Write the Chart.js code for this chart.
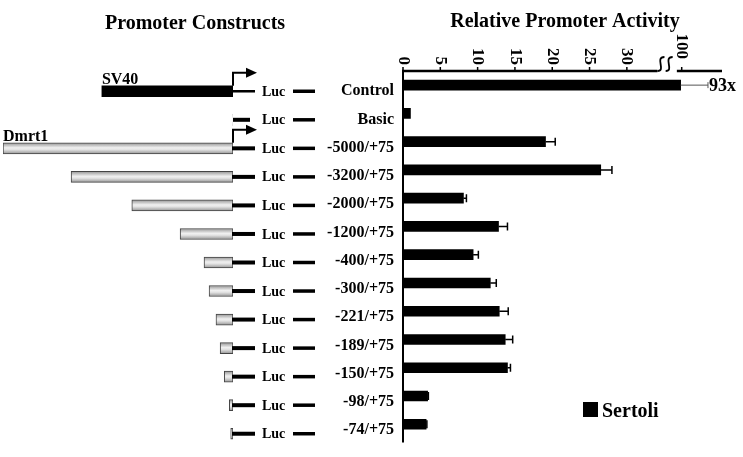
<!DOCTYPE html>
<html>
<head>
<meta charset="utf-8">
<script src="https://cdn.jsdelivr.net/npm/chart.js@4.4.1/dist/chart.umd.min.js"></script>
<style>
  html, body { margin: 0; padding: 0; background: #fff; }
  #wrap { position: relative; width: 743px; height: 457px; }
  #wrap canvas { position: absolute; left: 0; top: 0; }
</style>
</head>
<body>
<div id="wrap">
  <canvas id="constructChart" width="743" height="457"></canvas>
  <canvas id="activityChart" width="743" height="457"></canvas>
</div>
<script>
// constructs, top to bottom
let constructs = ['Control', 'Basic', '-5000/+75', '-3200/+75', '-2000/+75', '-1200/+75',
                  '-400/+75', '-300/+75', '-221/+75', '-189/+75', '-150/+75', '-98/+75', '-74/+75'];
// relative promoter activity in Sertoli cells (fold over basic)
let sertoli    = [93, 1.0, 19.1, 26.5, 8.1, 12.8, 9.4, 11.7, 12.9, 13.7, 14.0, 3.3, 3.1];
let sertoliErr = [183, 0, 1.3, 1.5, 0.4, 1.2, 0.7, 0.8, 1.2, 1.0, 0.4, 0.1, 0.1];
// drawn length of the promoter fragment in the schematic (kb, as drawn)
let schematicLen = [2.85, 0, 5.0, 3.52, 2.2, 1.15, 0.63, 0.52, 0.37, 0.28, 0.19, 0.08, 0.05];
let xTicks = [0, 5, 10, 15, 20, 25, 30, 100];

const SERIF = '"Liberation Serif", "Times New Roman", serif';

// broken axis: 0-35 linear, then a compressed piece around 100
function brk(v) {
  return v <= 35 ? v : 37.35 + (v - 100) * 0.02;
}

// grey shaded fill for the Dmrt1 fragments (darker at the edges)
function fragmentFill(c) {
  if (c.dataIndex === 0) return '#000';
  let ys = c.chart.scales.y;
  if (!ys) return '#cccccc';
  let y = ys.getPixelForValue(c.dataIndex);
  let g = c.chart.ctx.createLinearGradient(0, y - 6, 0, y + 6);
  g.addColorStop(0, '#8c8c8c');
  g.addColorStop(0.45, '#f0f0f0');
  g.addColorStop(0.6, '#e4e4e4');
  g.addColorStop(1, '#8c8c8c');
  return g;
}

let constructPlugin = {
  id: 'constructs',
  afterDatasetsDraw(chart) {
    let ctx = chart.ctx;
    let xs = chart.scales.x, ys = chart.scales.y;
    let x0 = xs.getPixelForValue(0);
    let half = 5.5;
    ctx.save();
    ctx.fillStyle = '#000';
    ctx.strokeStyle = '#000';
    ctx.font = 'bold 20px ' + SERIF;
    ctx.textAlign = 'center';
    ctx.textBaseline = 'alphabetic';
    ctx.fillText('Promoter Constructs', 195, 29);

    for (let i = 0; i < constructs.length; i++) {
      let y = ys.getPixelForValue(i);
      // connector to Luc
      ctx.lineWidth = i === 0 ? 2.5 : 4;
      ctx.beginPath();
      ctx.moveTo(x0 - (i === 1 ? 0 : 1), y);
      ctx.lineTo(x0 + (i === 1 ? 17 : 22), y);
      ctx.stroke();
      // Luc text
      ctx.font = 'bold 14px ' + SERIF;
      ctx.textAlign = 'left';
      ctx.textBaseline = 'middle';
      ctx.fillText('Luc', x0 + 29, y + 1);
      // dash
      ctx.lineWidth = 3.5;
      ctx.beginPath();
      ctx.moveTo(x0 + 60, y);
      ctx.lineTo(x0 + 82, y);
      ctx.stroke();
    }

    // transcription start arrows + promoter names
    [[0, 'SV40'], [2, 'Dmrt1']].forEach(([i, name]) => {
      let y = ys.getPixelForValue(i);
      let top = y - half;
      let ay = top - 13;
      ctx.lineWidth = 2;
      ctx.beginPath();
      ctx.moveTo(x0, top);
      ctx.lineTo(x0, ay);
      ctx.lineTo(x0 + 14, ay);
      ctx.stroke();
      ctx.beginPath();
      ctx.moveTo(x0 + 24, ay);
      ctx.lineTo(x0 + 13, ay - 5);
      ctx.lineTo(x0 + 13, ay + 5);
      ctx.closePath();
      ctx.fill();
      ctx.font = 'bold 16px ' + SERIF;
      ctx.textAlign = 'left';
      ctx.textBaseline = 'alphabetic';
      ctx.fillText(name, xs.getPixelForValue(schematicLen[i]), top - 2);
    });
    ctx.restore();
  }
};

new Chart(document.getElementById('constructChart').getContext('2d'), {
  type: 'bar',
  data: {
    labels: constructs,
    datasets: [{
      data: schematicLen,
      backgroundColor: fragmentFill,
      borderColor: '#444',
      borderWidth: c => c.dataIndex < 2 ? 0 : 1,
      borderSkipped: false,
      barThickness: 11
    }]
  },
  options: {
    indexAxis: 'y',
    responsive: false,
    animation: false,
    layout: { padding: { left: 3, right: 510, top: 77, bottom: 9 } },
    plugins: { legend: { display: false }, tooltip: { enabled: false } },
    scales: {
      x: { display: false, reverse: true, min: 0, max: 5.0 },
      y: { display: false }
    }
  },
  plugins: [constructPlugin]
});

let activityPlugin = {
  id: 'activity',
  afterDatasetsDraw(chart) {
    let ctx = chart.ctx;
    let xs = chart.scales.x;
    let area = chart.chartArea;
    let meta = chart.getDatasetMeta(0);
    ctx.save();
    ctx.fillStyle = '#000';
    ctx.strokeStyle = '#000';

    // title
    ctx.font = 'bold 20px ' + SERIF;
    ctx.textAlign = 'center';
    ctx.textBaseline = 'alphabetic';
    ctx.fillText('Relative Promoter Activity', 565, 27);

    // error bars
    meta.data.forEach((bar, i) => {
      if (!sertoliErr[i]) return;
      let xe = xs.getPixelForValue(brk(sertoli[i] + sertoliErr[i]));
      let cap = i === 0 ? 3 : 4;
      ctx.strokeStyle = i === 0 ? '#555' : '#000';
      ctx.lineWidth = i === 0 ? 1 : 1.5;
      ctx.beginPath();
      ctx.moveTo(bar.x, bar.y);
      ctx.lineTo(xe, bar.y);
      ctx.moveTo(xe, bar.y - cap);
      ctx.lineTo(xe, bar.y + cap);
      ctx.stroke();
      if (i === 0) {
        ctx.font = 'bold 18px ' + SERIF;
        ctx.textAlign = 'left';
        ctx.textBaseline = 'middle';
        ctx.fillText(Math.round(sertoli[0]) + 'x', xe + 1, bar.y + 1);
      }
    });

    // y axis runs a little past the last row
    ctx.strokeStyle = '#000';
    ctx.lineWidth = 2;
    ctx.beginPath();
    ctx.moveTo(area.left, area.bottom - 1);
    ctx.lineTo(area.left, area.bottom + 4);
    ctx.stroke();

    // top axis with a break
    let y0 = area.top;
    ctx.lineWidth = 2.5;
    ctx.beginPath();
    ctx.moveTo(xs.getPixelForValue(0) - 1, y0);
    ctx.lineTo(xs.getPixelForValue(34.1), y0);
    ctx.moveTo(xs.getPixelForValue(36.7), y0);
    ctx.lineTo(area.right, y0);
    ctx.stroke();
    ctx.lineWidth = 1.8;
    [34.1, 35.2].forEach(v => {
      let a = xs.getPixelForValue(v);
      ctx.beginPath();
      ctx.moveTo(a, y0);
      ctx.bezierCurveTo(a + 9, y0, a - 3, y0 - 14, a + 7, y0 - 14);
      ctx.stroke();
    });

    ctx.font = 'bold 17px ' + SERIF;
    xTicks.forEach(t => {
      let px = xs.getPixelForValue(brk(t));
      ctx.lineWidth = 1.5;
      ctx.beginPath();
      ctx.moveTo(px, y0 - 4);
      ctx.lineTo(px, y0);
      ctx.stroke();
      ctx.save();
      ctx.translate(px, t > 35 ? y0 - 12 : y0 - 6);
      ctx.rotate(Math.PI / 2);
      ctx.textAlign = 'right';
      ctx.textBaseline = 'middle';
      ctx.fillText(String(t), 0, 0);
      ctx.restore();
    });

    // legend
    let ds = chart.data.datasets[0];
    ctx.fillStyle = ds.backgroundColor;
    ctx.fillRect(583, 402, 15, 15);
    ctx.font = 'bold 20px ' + SERIF;
    ctx.textAlign = 'left';
    ctx.textBaseline = 'alphabetic';
    ctx.fillText(ds.label, 602, 417);
    ctx.restore();
  }
};

new Chart(document.getElementById('activityChart').getContext('2d'), {
  type: 'bar',
  data: {
    labels: constructs,
    datasets: [{
      label: 'Sertoli',
      data: sertoli.map(brk),
      backgroundColor: '#000',
      barThickness: 10
    }]
  },
  options: {
    indexAxis: 'y',
    responsive: false,
    animation: false,
    layout: { padding: { left: 303, right: 21, top: 71, bottom: 15 } },
    plugins: { legend: { display: false }, tooltip: { enabled: false } },
    scales: {
      x: { display: false, min: 0, max: 42.75 },
      y: {
        grid: { display: false, drawTicks: false },
        border: { display: true, color: '#000', width: 2 },
        ticks: {
          color: '#000',
          font: { family: SERIF, size: 16, weight: 'bold' },
          padding: 9,
          labelOffset: 6
        },
        afterFit(scale) { scale.width = 100; }
      }
    }
  },
  plugins: [activityPlugin]
});
</script>
</body>
</html>
